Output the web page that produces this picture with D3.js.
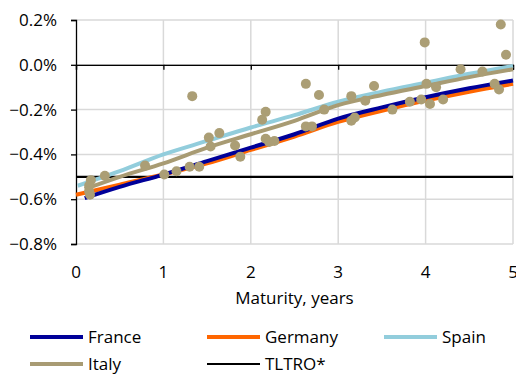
<!DOCTYPE html>
<html>
<head>
<meta charset="utf-8">
<script src="https://cdn.jsdelivr.net/npm/d3@7"></script>
<style>
  body { margin: 0; background: #fff; }
  text { font-family: "Open Sans", "Noto Sans", sans-serif; fill: #000; }
</style>
</head>
<body>
<div id="chart"></div>
<script>
var svgWidth = 516;
var svgHeight = 374;

var margin = { top: 20, right: 3, bottom: 130, left: 76 };
var width = svgWidth - margin.left - margin.right;
var height = svgHeight - margin.top - margin.bottom;

// fitted curves (maturity in years, yield in %)
var franceMat = [0.1, 0.5, 1, 1.5, 2, 2.5, 3, 3.5, 4, 4.5, 5];
var franceYld = [-0.595, -0.545, -0.49, -0.43, -0.37, -0.31, -0.24, -0.19, -0.145, -0.105, -0.07];
var germanyMat = [0, 0.5, 1, 1.5, 2, 2.5, 3, 3.5, 4, 4.5, 5];
var germanyYld = [-0.58, -0.535, -0.49, -0.44, -0.38, -0.32, -0.255, -0.205, -0.16, -0.12, -0.085];
var spainMat = [0.02, 0.5, 1, 1.5, 2, 2.5, 3, 3.5, 4, 4.5, 5];
var spainYld = [-0.54, -0.475, -0.40, -0.34, -0.28, -0.225, -0.165, -0.12, -0.08, -0.04, -0.005];
var italyMat = [0.1, 0.5, 1, 1.5, 2, 2.5, 3, 3.5, 4, 4.5, 5];
var italyYld = [-0.555, -0.5, -0.44, -0.37, -0.31, -0.25, -0.18, -0.135, -0.095, -0.055, -0.02];
var tltroRate = -0.5;

// Italian bonds (scatter)
var bondMat = [0.17, 0.15, 0.15, 0.16, 0.33, 0.79, 1.01, 1.15, 1.30, 1.41, 1.33, 1.52, 1.54, 1.64, 1.82, 1.88,
  2.13, 2.17, 2.17, 2.21, 2.27, 2.63, 2.78, 2.84, 2.63, 2.70, 3.15, 3.31, 3.41, 3.15, 3.19, 3.62, 3.82, 3.95,
  4.05, 3.99, 4.01, 4.12, 4.20, 4.40, 4.65, 4.79, 4.84, 4.86, 4.92];
var bondYld = [-0.515, -0.54, -0.565, -0.58, -0.495, -0.45, -0.49, -0.475, -0.455, -0.455, -0.14, -0.325, -0.365, -0.305, -0.36, -0.41,
  -0.245, -0.21, -0.33, -0.345, -0.34, -0.085, -0.135, -0.2, -0.275, -0.275, -0.14, -0.16, -0.095, -0.25, -0.235, -0.2, -0.165, -0.155,
  -0.175, 0.1, -0.085, -0.1, -0.155, -0.02, -0.03, -0.085, -0.11, 0.18, 0.045];

var xTicks = [0, 1, 2, 3, 4, 5];
var yTicks = [0.2, 0, -0.2, -0.4, -0.6, -0.8];
var fontSize = "17px";

var svg = d3.select("#chart")
  .append("svg")
  .attr("width", svgWidth)
  .attr("height", svgHeight);

var chartGroup = svg.append("g")
  .attr("transform", `translate(${margin.left}, ${margin.top})`);

var xScale = d3.scaleLinear().domain([0, 5]).range([0, width]);
var yScale = d3.scaleLinear().domain([-0.8, 0.2]).range([height, 0]);

// gridlines
chartGroup.selectAll(".vgrid")
  .data(xTicks.slice(1))
  .enter()
  .append("line")
  .attr("x1", d => xScale(d)).attr("x2", d => xScale(d))
  .attr("y1", 0).attr("y2", height)
  .attr("stroke", "#d9d9d9").attr("stroke-width", 1.5);

chartGroup.selectAll(".hgrid")
  .data(yTicks)
  .enter()
  .append("line")
  .attr("x1", 0).attr("x2", width)
  .attr("y1", d => yScale(d)).attr("y2", d => yScale(d))
  .attr("stroke", "#d9d9d9").attr("stroke-width", 1.5);

// y axis
var leftAxis = d3.axisLeft(yScale)
  .tickValues(yTicks)
  .tickSize(5)
  .tickPadding(14)
  .tickFormat(d => d3.format(".1f")(d) + "%");

var yAxisG = chartGroup.append("g").call(leftAxis);
yAxisG.select(".domain").attr("stroke", "#000").attr("stroke-width", 1.3);
yAxisG.selectAll(".tick line").attr("stroke", "#000").attr("stroke-width", 1.3);
yAxisG.selectAll("text").attr("font-size", fontSize).attr("font-family", "Open Sans, sans-serif").attr("fill", "#000");

// x axis sits on zero line, labels at the bottom
var xAxisG = chartGroup.append("g")
  .attr("transform", `translate(0, ${yScale(0)})`)
  .call(d3.axisBottom(xScale).tickValues(xTicks).tickSize(5).tickFormat(""));
xAxisG.select(".domain").attr("stroke", "#000").attr("stroke-width", 1.3);
xAxisG.selectAll(".tick line").attr("stroke", "#000").attr("stroke-width", 1.3);

chartGroup.selectAll(".xlab")
  .data(xTicks)
  .enter()
  .append("text")
  .attr("x", d => xScale(d))
  .attr("y", height + 34)
  .attr("text-anchor", "middle")
  .attr("font-size", fontSize)
  .text(d => d);

chartGroup.append("text")
  .attr("x", width / 2)
  .attr("y", height + 60)
  .attr("text-anchor", "middle")
  .attr("font-size", fontSize)
  .text("Maturity, years");

// TLTRO line
chartGroup.append("line")
  .attr("x1", 0).attr("x2", width)
  .attr("y1", yScale(tltroRate)).attr("y2", yScale(tltroRate))
  .attr("stroke", "#000").attr("stroke-width", 2.2);

var line = d3.line()
  .x(d => xScale(d[0]))
  .y(d => yScale(d[1]))
  .curve(d3.curveMonotoneX);

var curves = [
  { mat: spainMat, yld: spainYld, color: "#92cddc" },
  { mat: italyMat, yld: italyYld, color: "#a89b73" },
  { mat: germanyMat, yld: germanyYld, color: "#ff6600" },
  { mat: franceMat, yld: franceYld, color: "#000099" }
];

curves.forEach(function(c) {
  chartGroup.append("path")
    .datum(d3.zip(c.mat, c.yld))
    .attr("d", line)
    .attr("fill", "none")
    .attr("stroke", c.color)
    .attr("stroke-width", 4);
});

// bond points
chartGroup.selectAll("circle")
  .data(d3.zip(bondMat, bondYld))
  .enter()
  .append("circle")
  .attr("cx", d => xScale(d[0]))
  .attr("cy", d => yScale(d[1]))
  .attr("r", 5)
  .attr("fill", "#ab9e75");

// legend
var legendItems = [
  { name: "France", color: "#000099", w: 4, x: 30, y: 337 },
  { name: "Germany", color: "#ff6600", w: 4, x: 207, y: 337 },
  { name: "Spain", color: "#92cddc", w: 4, x: 384, y: 337 },
  { name: "Italy", color: "#a89b73", w: 4, x: 30, y: 364 },
  { name: "TLTRO*", color: "#000", w: 2.2, x: 207, y: 364 }
];

var legend = svg.selectAll(".legend")
  .data(legendItems)
  .enter()
  .append("g")
  .attr("transform", d => `translate(${d.x}, ${d.y})`);

legend.append("line")
  .attr("x1", 0).attr("x2", 53)
  .attr("y1", 0).attr("y2", 0)
  .attr("stroke", d => d.color)
  .attr("stroke-width", d => d.w);

legend.append("text")
  .attr("x", 58)
  .attr("y", 6)
  .attr("font-size", fontSize)
  .text(d => d.name);
</script>
</body>
</html>
